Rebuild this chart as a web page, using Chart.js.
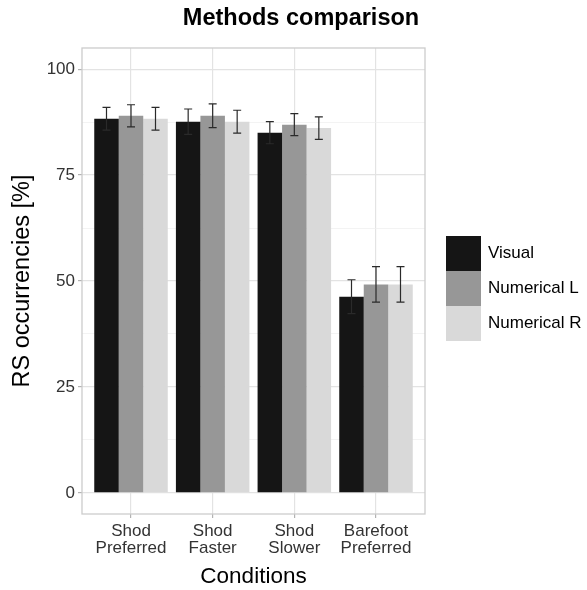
<!DOCTYPE html>
<html>
<head>
<meta charset="utf-8">
<script src="https://cdn.jsdelivr.net/npm/chart.js@4.4.1/dist/chart.umd.min.js"></script>
<style>
html,body{margin:0;padding:0;background:#fff;}
#wrap{position:relative;width:587px;height:590px;}
</style>
</head>
<body>
<div id="wrap"><canvas id="c" width="587" height="590"></canvas></div>
<script>
const categories = ['Shod Preferred', 'Shod Faster', 'Shod Slower', 'Barefoot Preferred'];
const seriesNames = ['Visual', 'Numerical L', 'Numerical R'];
const visual = [88.3, 87.6, 85.0, 46.3];
const numericalL = [89.0, 89.0, 86.9, 49.2];
const numericalR = [88.3, 87.6, 86.1, 49.2];
const visualErr = [2.7, 3.0, 2.6, 4.0];
const numericalLErr = [2.6, 2.8, 2.6, 4.2];
const numericalRErr = [2.7, 2.7, 2.65, 4.2];
const yTicks = [0, 25, 50, 75, 100];
const yMinorTicks = [12.5, 37.5, 62.5, 87.5];
const colors = ['#151515', '#979797', '#d9d9d9'];

const FONT = "'Liberation Sans', Arial, sans-serif";
const values = [visual, numericalL, numericalR];
const errors = [visualErr, numericalLErr, numericalRErr];

const datasets = values.map((vals, s) => ({
  label: seriesNames[s],
  data: vals.map((v, i) => ({x: i, y: v})),
  errors: errors[s],
  backgroundColor: colors[s],
  borderWidth: 0,
  categoryPercentage: 0.9,
  barPercentage: 1.0
}));

const errorBarPlugin = {
  id: 'errorBars',
  afterDatasetsDraw(chart) {
    const ctx = chart.ctx;
    const ys = chart.scales.y;
    ctx.save();
    ctx.strokeStyle = '#2a2a2a';
    ctx.lineWidth = 1.2;
    chart.data.datasets.forEach((ds, di) => {
      const meta = chart.getDatasetMeta(di);
      meta.data.forEach((el, j) => {
        const v = ds.data[j].y, e = ds.errors[j];
        const x = el.x;
        const yt = ys.getPixelForValue(v + e);
        const yb = ys.getPixelForValue(v - e);
        const cap = 4;
        ctx.beginPath();
        ctx.moveTo(x, yt); ctx.lineTo(x, yb);
        ctx.moveTo(x - cap, yt); ctx.lineTo(x + cap, yt);
        ctx.moveTo(x - cap, yb); ctx.lineTo(x + cap, yb);
        ctx.stroke();
      });
    });
    ctx.restore();
  }
};

const decorPlugin = {
  id: 'decor',
  afterDraw(chart) {
    const ctx = chart.ctx;
    const a = chart.chartArea;
    ctx.save();
    // panel border
    ctx.strokeStyle = '#cccccc';
    ctx.lineWidth = 1.3;
    ctx.strokeRect(a.left, a.top, a.right - a.left, a.bottom - a.top);
    // title
    ctx.fillStyle = '#000';
    ctx.font = "bold 23.5px " + FONT;
    ctx.textAlign = 'center';
    ctx.textBaseline = 'middle';
    ctx.fillText('Methods comparison', 301, 19);
    // legend
    const kx = a.right + 21, ky = 236, kw = 35, kh = 35;
    ctx.font = "17px " + FONT;
    ctx.textAlign = 'left';
    chart.data.datasets.forEach((ds, i) => {
      ctx.fillStyle = ds.backgroundColor;
      ctx.fillRect(kx, ky + i * kh, kw, kh);
      ctx.fillStyle = '#000';
      ctx.fillText(ds.label, kx + kw + 7, ky + i * kh + kh / 2);
    });
    ctx.restore();
  }
};

new Chart(document.getElementById('c'), {
  type: 'bar',
  data: { datasets },
  options: {
    responsive: false,
    animation: false,
    devicePixelRatio: 1,
    layout: { padding: { top: 48, right: 162, left: 0, bottom: 0 } },
    plugins: { legend: { display: false }, tooltip: { enabled: false }, title: { display: false } },
    scales: {
      x: {
        type: 'linear',
        min: -0.6,
        max: 3.6,
        offset: false,
        afterBuildTicks(scale) { scale.ticks = categories.map((_, i) => ({ value: i })); },
        afterFit(scale) { scale.height = 76; },
        grid: { offset: false, color: '#e3e3e3', lineWidth: 1.2, tickColor: '#b3b3b3', tickLength: 4, drawTicks: true },
        border: { display: false },
        ticks: {
          autoSkip: false,
          maxRotation: 0,
          padding: 4,
          color: '#333333',
          font: { family: FONT, size: 17, lineHeight: 1.05 },
          callback: (v) => categories[v] ? categories[v].split(' ') : ''
        },
        title: { display: true, text: 'Conditions', color: '#000', font: { family: FONT, size: 22.5 }, padding: { top: 0, bottom: 0 } }
      },
      y: {
        type: 'linear',
        min: -5,
        max: 105,
        afterBuildTicks(scale) {
          scale.ticks = yTicks.concat(yMinorTicks).sort((p, q) => p - q).map(v => ({ value: v }));
        },
        afterFit(scale) { scale.width = 82; },
        grid: {
          color: (c) => (c.tick && yTicks.includes(c.tick.value)) ? '#e3e3e3' : '#eeeeee',
          lineWidth: (c) => (c.tick && yTicks.includes(c.tick.value)) ? 1.2 : 0.7,
          tickColor: (c) => (c.tick && yTicks.includes(c.tick.value)) ? '#b3b3b3' : 'rgba(0,0,0,0)',
          tickLength: 4,
          drawTicks: true
        },
        border: { display: false },
        ticks: {
          autoSkip: false,
          padding: 3,
          color: '#333333',
          font: { family: FONT, size: 17 },
          callback: (v) => yTicks.includes(v) ? String(v) : ''
        },
        title: { display: true, text: 'RS occurrencies [%]', color: '#000', font: { family: FONT, size: 23.5 }, padding: { top: 8 } }
      }
    }
  },
  plugins: [errorBarPlugin, decorPlugin]
});
</script>
</body>
</html>
